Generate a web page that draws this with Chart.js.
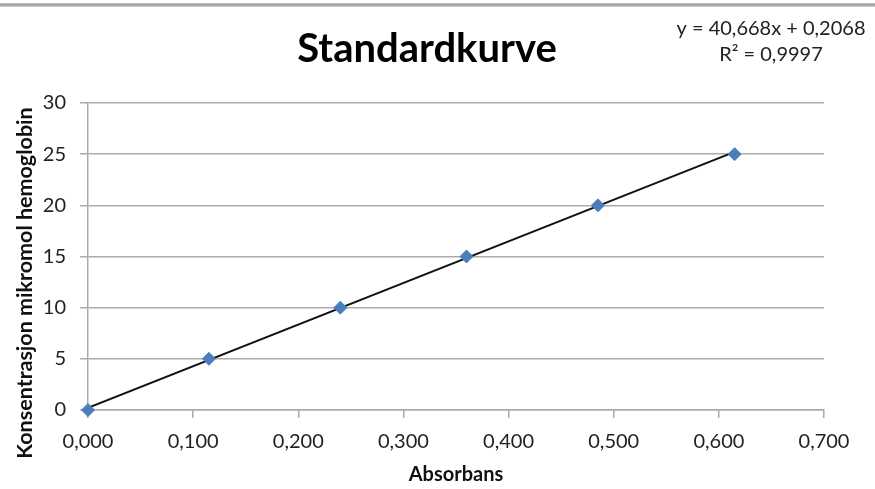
<!DOCTYPE html>
<html>
<head>
<meta charset="utf-8">
<script src="https://cdn.jsdelivr.net/npm/chart.js@4.4.1/dist/chart.umd.min.js"></script>
<style>
  html, body { margin: 0; padding: 0; background: #fff; }
  #wrap { position: relative; width: 875px; height: 489px; }
  #wrap:before { content: ""; position: absolute; left: 0; right: 0; top: 3px; height: 4px;
    background: linear-gradient(#c8c8c8, #9a9a9a, #d8d8d8); }
</style>
</head>
<body>
<div id="wrap"><canvas id="myChart" width="875" height="489"></canvas></div>
<script>
// measured points (absorbans vs konsentrasjon)
const absorbans = [0, 0.115, 0.240, 0.360, 0.485, 0.615];
const konsentrasjon = [0, 5, 10, 15, 20, 25];
// linear trendline ends, from y = 40,668x + 0,2068
const trendX = [0, 0.615];
const trendY = [0.21, 25.22];
const yTicks = [0, 5, 10, 15, 20, 25, 30];
const xTicks = [0, 0.1, 0.2, 0.3, 0.4, 0.5, 0.6, 0.7];
const chartTitle = "Standardkurve";
const yTitle = "Konsentrasjon mikromol hemoglobin";
const eqLines = ["y = 40,668x + 0,2068", "R\u00b2 = 0,9997"];

const fontFam = "Lato, 'Open Sans', sans-serif";

const textPlugin = {
  id: 'texts',
  afterDraw(chart) {
    const c = chart.ctx;
    c.save();
    c.fillStyle = '#000';
    c.font = "bold 40px " + fontFam;
    c.textAlign = 'center';
    c.textBaseline = 'alphabetic';
    c.fillText(chartTitle, 427, 62);
    c.fillStyle = '#222';
    c.font = "20px " + fontFam;
    c.fillText(eqLines[0], 771, 35);
    c.fillText(eqLines[1], 771, 61);
    // vertical axis title
    c.translate(32, 283);
    c.rotate(-Math.PI / 2);
    c.fillStyle = '#111';
    c.font = "bold 21.5px " + fontFam;
    c.fillText(yTitle, 0, 0);
    c.restore();
  }
};

function toPoints(xs, ys) {
  return xs.map((x, i) => ({ x: x, y: ys[i] }));
}

window.onload = function () {
  const ctx = document.getElementById('myChart').getContext('2d');
  new Chart(ctx, {
    type: 'scatter',
    data: {
      datasets: [{
        label: 'Trend',
        data: toPoints(trendX, trendY),
        showLine: true,
        borderColor: '#111',
        borderWidth: 2,
        pointRadius: 0,
        order: 2
      }, {
        label: 'Standard',
        data: toPoints(absorbans, konsentrasjon),
        pointStyle: 'rectRot',
        pointRadius: 6.5,
        backgroundColor: '#4a7ebb',
        borderColor: '#4a7ebb',
        clip: false,
        order: 1
      }]
    },
    options: {
      responsive: false,
      animation: false,
      layout: { padding: { top: 103, right: 51, left: 0, bottom: 0 } },
      plugins: { legend: { display: false }, tooltip: { enabled: false } },
      scales: {
        x: {
          type: 'linear', min: 0, max: 0.7,
          afterBuildTicks: a => { a.ticks = xTicks.map(v => ({ value: v })); },
          afterFit: a => { a.height = 79; },
          grid: { drawOnChartArea: false, drawTicks: true, tickLength: 8, color: '#ababab', lineWidth: 1.5 },
          border: { color: '#ababab', width: 1.5 },
          ticks: {
            color: '#222', font: { size: 20, family: fontFam }, padding: 12,
            callback: v => v.toFixed(3).replace('.', ',')
          },
          title: { display: true, text: 'Absorbans', color: '#111',
            font: { size: 20, weight: 'bold', family: fontFam }, padding: { top: 4, bottom: 2 } }
        },
        y: {
          type: 'linear', min: 0, max: 30,
          afterBuildTicks: a => { a.ticks = yTicks.map(v => ({ value: v })); },
          afterFit: a => { a.width = 88; },
          grid: { color: '#ababab', lineWidth: 1.5, tickLength: 8 },
          border: { color: '#ababab', width: 1.5 },
          ticks: { color: '#222', font: { size: 20, family: fontFam }, padding: 14 }
        }
      }
    },
    plugins: [textPlugin]
  });
};
</script>
</body>
</html>
